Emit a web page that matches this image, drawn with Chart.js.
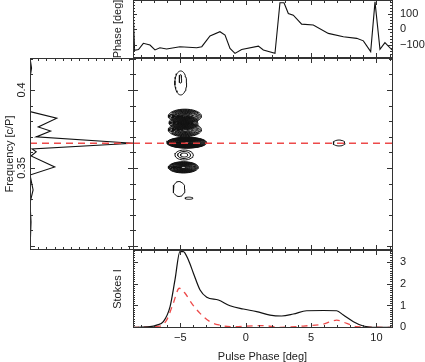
<!DOCTYPE html>
<html>
<head>
<meta charset="utf-8">
<script src="https://cdn.jsdelivr.net/npm/chart.js@4.4.1/dist/chart.umd.min.js"></script>
<style>
  html, body { margin: 0; padding: 0; background: #fff; }
  #wrap { position: relative; width: 425px; height: 362px; }
  #wrap canvas { position: absolute; left: 0; top: 0; }
</style>
</head>
<body>
<div id="wrap">
  <canvas id="cTop" width="425" height="362"></canvas>
  <canvas id="cMap" width="425" height="362"></canvas>
  <canvas id="cSpec" width="425" height="362"></canvas>
  <canvas id="cProf" width="425" height="362"></canvas>
</div>
<script>
// axis ranges
const phaseMin = -8.62, phaseMax = 11.19;     // pulse phase [deg]
const freqMin = 0.2974, freqMax = 0.4205;     // frequency [c/P]
const peakFreq = 0.3658;                      // dashed red line

// top panel: phase [deg] vs pulse phase
const phaseX   = [-8.62, -8.5, -8.2, -7.83, -7.32, -6.94, -6.56, -6.05, -5.03, -3.75, -3.36, -2.73, -1.97, -1.58, -1.2, -0.82, -0.31, 0.97, 1.35, 2.24, 2.62, 2.93, 3.26, 3.64, 4.28, 5.17, 6.32, 7.47, 8.49, 9.0, 9.56, 9.89, 10.27, 10.65, 11.19];
const phaseDeg = [150, -135, -130, -90, -101, -133, -119, -127, -112, -119, -112, -43, -15, -37, -123, -155, -130, -108, -133, -155, 172, 172, 103, 92, 34, 28, -26, -48, -58, -74, -144, 178, -129, -86, -133];

// bottom panel: Stokes I (solid) and dashed red profile
const profX   = [-8.62, -7.32, -6.81, -6.3, -5.79, -5.41, -5.03, -4.77, -4.39, -4.0, -3.49, -2.98, -2.09, -1.2, -0.18, 0.84, 1.86, 2.75, 3.64, 4.66, 5.94, 6.96, 7.47, 8.24, 9.0, 10.02, 11.19];
const stokesI = [0, 0.03, 0.1, 0.26, 0.94, 2.17, 3.47, 3.47, 3.09, 2.48, 1.71, 1.38, 1.25, 0.99, 0.84, 0.72, 0.56, 0.52, 0.61, 0.76, 0.77, 0.76, 0.56, 0.26, 0.06, 0, 0];
const redX    = [-8.62, -6.56, -6.05, -5.54, -5.08, -4.64, -4.13, -3.49, -2.73, -1.97, -1.2, 1.35, 2.62, 4.41, 5.94, 6.96, 7.73, 8.49, 11.19];
const redI    = [0, 0.06, 0.33, 1.1, 1.79, 1.56, 1.1, 0.64, 0.26, 0.1, 0.03, 0.08, 0, 0.06, 0.15, 0.33, 0.18, 0.03, 0];

// left panel: power (normalised) vs frequency
const specFreq  = [0.4205, 0.4141, 0.4077, 0.3861, 0.3819, 0.3763, 0.3737, 0.3699, 0.3658, 0.3622, 0.3603, 0.3577, 0.3506, 0.3455, 0.3359, 0.3276, 0.3154, 0.2974];
const specPower = [0, 0.015, 0, 0, 0.26, 0.08, 0.2, 0.06, 1.0, 0.02, 0.06, 0.01, 0.24, 0, 0.03, 0, 0.01, 0];

// contour islands in the main panel: centre, half extent, number of levels
const blobPhase  = [-4.97, -4.99, -4.65, -4.75, -4.65, -4.51, -4.71, -4.77, -5.1, -4.34, 7.14];
const blobFreq   = [0.4045, 0.4071, 0.3832, 0.3790, 0.3745, 0.3662, 0.3583, 0.3504, 0.3365, 0.3306, 0.3660];
const blobDPhase = [0.45, 0.1, 1.27, 1.1, 1.27, 1.53, 0.7, 1.15, 0.45, 0.3, 0.45];
const blobDFreq  = [0.0077, 0.0027, 0.0045, 0.0045, 0.0045, 0.0035, 0.0032, 0.0036, 0.0048, 0.0007, 0.0019];
const blobLevels = [1, 1, 12, 10, 12, 26, 3, 16, 1, 1, 1];

// tick labels
const phaseTicks  = [-100, 0, 100];
const stokesTicks = [0, 1, 2, 3];
const pulseTicks  = [-5, 0, 5, 10];
const freqTicks   = [0.35, 0.4];

Chart.defaults.font.family = "'Liberation Sans', Arial, sans-serif";
Chart.defaults.font.size = 11;
Chart.defaults.color = '#222';

const RED = 'rgba(236,64,64,0.95)';

function pts(xs, ys) {
  return xs.map((x, i) => ({ x: x, y: ys[i] }));
}

// force the axis box size so the plot boxes line up
function fix(size) {
  return s => {
    if (s.isHorizontal()) s.height = size; else s.width = size;
    s.paddingTop = 0; s.paddingBottom = 0; s.paddingLeft = 0; s.paddingRight = 0;
  };
}

function setTicks(vals) {
  return s => { s.ticks = vals.map(v => ({ value: v })); };
}

function fmt(v) {
  return String(v).replace('-', '\u2212');
}

function line(data, color, dash, width) {
  return {
    data: data, showLine: true, borderColor: color, borderWidth: width || 1.1,
    borderDash: dash || [], pointRadius: 0, fill: false, tension: 0
  };
}

// box + inward tick marks, IDL style
const framePlugin = {
  id: 'frame',
  afterDatasetsDraw(chart, args, opts) {
    const a = chart.chartArea, ctx = chart.ctx;
    ctx.save();
    ctx.strokeStyle = '#333';
    ctx.lineWidth = 1;
    ctx.beginPath();
    (opts.marks || []).forEach(m => {
      const s = chart.scales[m.scale];
      const lo = Math.ceil(s.min / m.step - 1e-9), hi = Math.floor(s.max / m.step + 1e-9);
      for (let n = lo; n <= hi; n++) {
        const v = n * m.step;
        const big = m.major && Math.abs(v / m.major - Math.round(v / m.major)) < 1e-6;
        const len = big ? m.big : m.small;
        const p = Math.round(s.getPixelForValue(v)) + 0.5;
        m.edges.forEach(e => {
          if (e === 'top') { ctx.moveTo(p, a.top); ctx.lineTo(p, a.top + len); }
          if (e === 'bottom') { ctx.moveTo(p, a.bottom); ctx.lineTo(p, a.bottom - len); }
          if (e === 'left') { ctx.moveTo(a.left, p); ctx.lineTo(a.left + len, p); }
          if (e === 'right') { ctx.moveTo(a.right, p); ctx.lineTo(a.right - len, p); }
        });
      }
    });
    ctx.stroke();
    ctx.strokeRect(Math.round(a.left) + 0.5, Math.round(a.top) + 0.5,
      Math.round(a.right - a.left), Math.round(a.bottom - a.top) - 1);
    ctx.restore();
  }
};
Chart.register(framePlugin);

const noGrid = { display: false, drawTicks: false };
const baseOpts = {
  responsive: false, animation: false, devicePixelRatio: 1,
  plugins: { legend: { display: false }, tooltip: { enabled: false } }
};

function titleAxis(text, width, pad) {
  return {
    type: 'linear', position: 'left', min: 0, max: 1,
    grid: noGrid, border: { display: false },
    ticks: { display: false },
    title: { display: true, text: text, padding: { top: pad, bottom: 0 } },
    afterFit: fix(width)
  };
}

// ---- top panel
new Chart(document.getElementById('cTop'), {
  type: 'scatter',
  data: { datasets: [line(pts(phaseX, phaseDeg), '#111', [], 1.1)] },
  options: Object.assign({}, baseOpts, {
    layout: { padding: { left: 100, right: 0, top: 0, bottom: 304 } },
    scales: {
      x: { type: 'linear', min: phaseMin, max: phaseMax, display: false },
      y: {
        type: 'linear', position: 'right', min: -185, max: 190,
        grid: noGrid, border: { display: false },
        afterBuildTicks: setTicks(phaseTicks),
        ticks: { padding: 8, callback: fmt },
        afterFit: fix(33)
      },
      yT: titleAxis('Phase [deg]', 33, 11)
    },
    plugins: Object.assign({}, baseOpts.plugins, {
      frame: { marks: [
        { scale: 'x', step: 1, major: 5, small: 3, big: 5, edges: ['top', 'bottom'] },
        { scale: 'y', step: 20, major: 100, small: 2, big: 4, edges: ['left', 'right'] }
      ] }
    })
  })
});

// ---- main contour panel
const mapSets = [line([{ x: phaseMin, y: peakFreq }, { x: phaseMax, y: peakFreq }], RED, [7, 5], 1.5)];
blobPhase.forEach((cx, b) => {
  for (let k = 0; k < blobLevels[b]; k++) {
    const s = 1 - 0.9 * k / blobLevels[b];
    const ring = [];
    for (let i = 0; i <= 36; i++) {
      const t = 2 * Math.PI * i / 36;
      ring.push({ x: cx + blobDPhase[b] * s * Math.cos(t), y: blobFreq[b] + blobDFreq[b] * s * Math.sin(t) });
    }
    mapSets.push(line(ring, '#111', [], 1));
  }
});

new Chart(document.getElementById('cMap'), {
  type: 'scatter',
  data: { datasets: mapSets },
  options: Object.assign({}, baseOpts, {
    layout: { padding: { left: 133, right: 33, top: 58, bottom: 112 } },
    scales: {
      x: { type: 'linear', min: phaseMin, max: phaseMax, display: false },
      y: { type: 'linear', min: freqMin, max: freqMax, display: false }
    },
    plugins: Object.assign({}, baseOpts.plugins, {
      frame: { marks: [
        { scale: 'x', step: 1, major: 5, small: 3, big: 5, edges: ['top', 'bottom'] },
        { scale: 'y', step: 0.01, major: 0.05, small: 3, big: 5, edges: ['left', 'right'] }
      ] }
    })
  })
});

// ---- left spectrum panel
new Chart(document.getElementById('cSpec'), {
  type: 'scatter',
  data: { datasets: [
    line([{ x: 0, y: peakFreq }, { x: 1, y: peakFreq }], RED, [7, 5], 1.5),
    line(pts(specPower, specFreq), '#111', [], 1.1)
  ] },
  options: Object.assign({}, baseOpts, {
    layout: { padding: { left: 0, right: 292, top: 58, bottom: 112 } },
    scales: {
      x: { type: 'linear', min: 0, max: 1, display: false },
      y: {
        type: 'linear', position: 'left', min: freqMin, max: freqMax,
        grid: noGrid, border: { display: false },
        afterBuildTicks: setTicks(freqTicks),
        ticks: { padding: -3, minRotation: 90, maxRotation: 90, crossAlign: 'center', callback: fmt },
        title: { display: true, text: 'Frequency [c/P]', padding: { top: 3, bottom: 0 } },
        afterFit: fix(30)
      }
    },
    plugins: Object.assign({}, baseOpts.plugins, {
      frame: { marks: [
        { scale: 'x', step: 0.08, small: 3, big: 3, edges: ['top', 'bottom'] },
        { scale: 'y', step: 0.01, major: 0.05, small: 3, big: 5, edges: ['left', 'right'] }
      ] }
    })
  })
});

// ---- bottom profile panel
new Chart(document.getElementById('cProf'), {
  type: 'scatter',
  data: { datasets: [
    Object.assign(line(pts(profX, stokesI), '#111', [], 1.2), { cubicInterpolationMode: 'monotone' }),
    Object.assign(line(pts(redX, redI), RED, [6, 5], 1.3), { cubicInterpolationMode: 'monotone' })
  ] },
  options: Object.assign({}, baseOpts, {
    layout: { padding: { left: 100, right: 0, top: 250, bottom: 0 } },
    scales: {
      x: {
        type: 'linear', position: 'bottom', min: phaseMin, max: phaseMax,
        grid: noGrid, border: { display: false },
        afterBuildTicks: setTicks(pulseTicks),
        ticks: { padding: 3, maxRotation: 0, callback: fmt },
        title: { display: true, text: 'Pulse Phase [deg]', padding: { top: 0, bottom: -2 } },
        afterFit: fix(34)
      },
      y: {
        type: 'linear', position: 'right', min: -0.03, max: 3.54,
        grid: noGrid, border: { display: false },
        afterBuildTicks: setTicks(stokesTicks),
        ticks: { padding: 8, callback: fmt },
        afterFit: fix(33)
      },
      yT: titleAxis('Stokes I', 33, 11)
    },
    plugins: Object.assign({}, baseOpts.plugins, {
      frame: { marks: [
        { scale: 'x', step: 1, major: 5, small: 3, big: 5, edges: ['top', 'bottom'] },
        { scale: 'y', step: 0.1, major: 1, small: 2, big: 5, edges: ['left', 'right'] }
      ] }
    })
  })
});
</script>
</body>
</html>
